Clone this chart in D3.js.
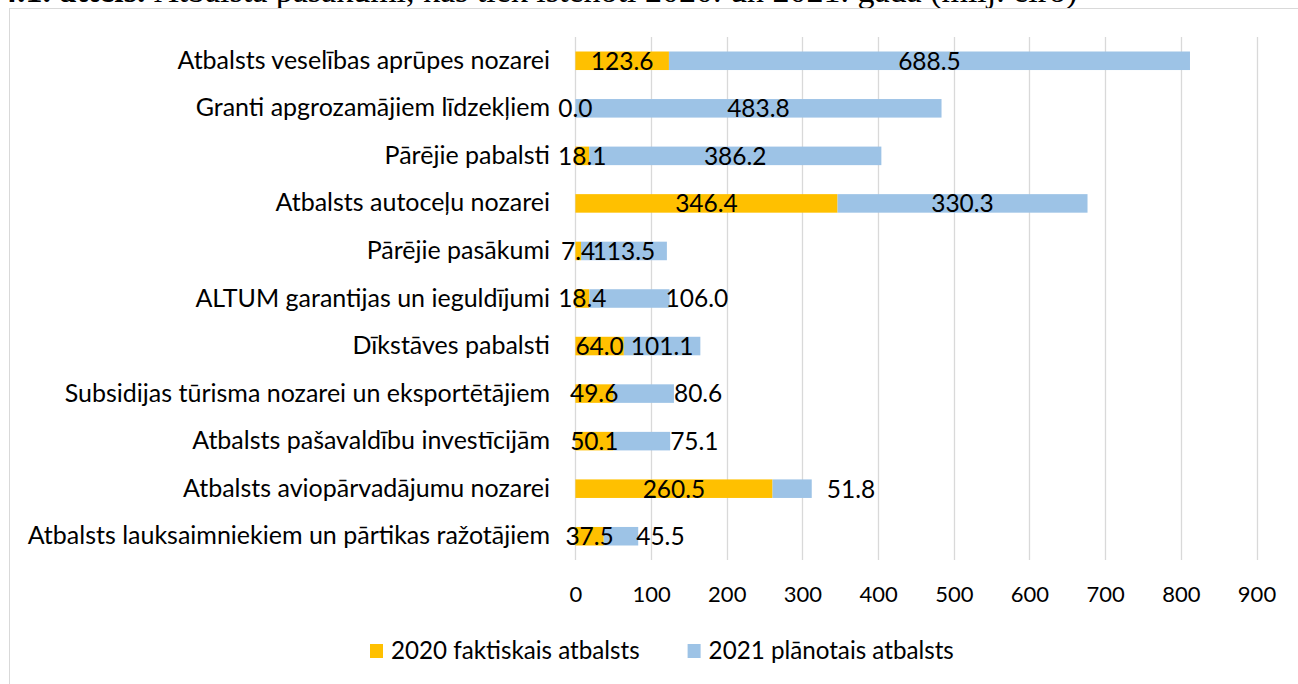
<!DOCTYPE html>
<html>
<head>
<meta charset="utf-8">
<script src="https://cdn.jsdelivr.net/npm/d3@7"></script>
<style>
	body { margin: 0; background: #fff; }
	svg { display: block; }
	text { font-family: Lato, "Open Sans", sans-serif; fill: #000; }
</style>
</head>
<body>
<script>
// chart data (milj. eiro)
var categories = [
	"Atbalsts veselības aprūpes nozarei",
	"Granti apgrozamājiem līdzekļiem",
	"Pārējie pabalsti",
	"Atbalsts autoceļu nozarei",
	"Pārējie pasākumi",
	"ALTUM garantijas un ieguldījumi",
	"Dīkstāves pabalsti",
	"Subsidijas tūrisma nozarei un eksportētājiem",
	"Atbalsts pašavaldību investīcijām",
	"Atbalsts aviopārvadājumu nozarei",
	"Atbalsts lauksaimniekiem un pārtikas ražotājiem"
];
var actual2020 = [123.6, 0.0, 18.1, 346.4, 7.4, 18.4, 64.0, 49.6, 50.1, 260.5, 37.5];
var planned2021 = [688.5, 483.8, 386.2, 330.3, 113.5, 106.0, 101.1, 80.6, 75.1, 51.8, 45.5];
var seriesNames = ["2020 faktiskais atbalsts", "2021 plānotais atbalsts"];
var xTicks = [0, 100, 200, 300, 400, 500, 600, 700, 800, 900];

// labels that were dragged out past the end of the bar (px gap from bar end)
var outsideLabelGap = {
	"ALTUM garantijas un ieguldījumi": -4,
	"Subsidijas tūrisma nozarei un eksportētājiem": 0,
	"Atbalsts pašavaldību investīcijām": 0,
	"Atbalsts aviopārvadājumu nozarei": 15,
	"Atbalsts lauksaimniekiem un pārtikas ražotājiem": -2
};

var colors = ["#FFC000", "#9DC3E6"];
var width = 1298;
var height = 684;
var labelSize = "24.5px";

var svg = d3.select("body")
			.append("svg")
			.attr("width", width)
			.attr("height", height);

// caption from the document, mostly cut off at the top
var caption = svg.append("text")
			.attr("x", 0)
			.attr("y", 1.5)
			.style("font-family", "'Liberation Serif', serif")
			.style("font-size", "34px");
caption.append("tspan")
			.style("font-weight", "bold")
			.text("4.1. attēls. ");
caption.append("tspan")
			.text("Atbalsta pasākumi, kas tiek īstenoti 2020. un 2021. gadā (milj. eiro)");

// chart area border
svg.append("rect")
			.attr("x", 9.5)
			.attr("y", 8.5)
			.attr("width", 1400)
			.attr("height", 800)
			.attr("fill", "#fff")
			.attr("stroke", "#d9d9d9")
			.attr("stroke-width", 1);

var x = d3.scaleLinear()
			.domain([0, 900])
			.range([575.4, 1256.5]);

var y = d3.scaleBand()
			.domain(categories)
			.range([37, 560])
			.paddingInner(0.61)
			.paddingOuter(0.305);

// gridlines
svg.append("g")
			.selectAll("line")
			.data(xTicks)
			.join("line")
			.attr("x1", d => Math.round(x(d)) + 0.5)
			.attr("x2", d => Math.round(x(d)) + 0.5)
			.attr("y1", 37)
			.attr("y2", 560)
			.attr("stroke", "#d9d9d9")
			.attr("stroke-width", 1.3);

// x axis tick labels
var xAxis = svg.append("g")
			.attr("transform", "translate(0,594)")
			.call(d3.axisBottom(x).tickValues(xTicks).tickSize(0).tickPadding(0));
xAxis.select(".domain").remove();
xAxis.selectAll("text")
			.attr("dy", "0.35em")
			.attr("y", 0)
			.style("font-family", "Lato, sans-serif")
			.style("font-size", "22px")
			.attr("fill", "#000");

// category labels
var yAxis = svg.append("g")
			.attr("transform", "translate(550,0)")
			.call(d3.axisLeft(y).tickSize(0).tickPadding(0));
yAxis.select(".domain").remove();
yAxis.selectAll("text")
			.style("font-family", "Lato, sans-serif")
			.style("font-size", "25px")
			.attr("fill", "#000");

// stack the two series
var rows = categories.map((c, i) => ({cat: c, a: actual2020[i], b: planned2021[i]}));
var stack = d3.stack().keys(["a", "b"]);
var layers = stack(rows);

var layer = svg.append("g")
			.selectAll("g")
			.data(layers)
			.join("g")
			.attr("fill", (d, i) => colors[i]);

layer.selectAll("rect")
			.data(d => d)
			.join("rect")
			.attr("x", d => x(d[0]))
			.attr("y", d => y(d.data.cat))
			.attr("width", d => x(d[1]) - x(d[0]))
			.attr("height", y.bandwidth());

// data labels
layers.forEach(function(l, k) {
	svg.append("g")
			.selectAll("text")
			.data(l)
			.join("text")
			.attr("x", function(d) {
				if (k == 1 && outsideLabelGap[d.data.cat] !== undefined) {
					return x(d[1]) + outsideLabelGap[d.data.cat];
				}
				return (x(d[0]) + x(d[1])) / 2;
			})
			.attr("y", d => y(d.data.cat) + y.bandwidth() / 2)
			.attr("dy", "0.36em")
			.attr("text-anchor", d => (k == 1 && outsideLabelGap[d.data.cat] !== undefined) ? "start" : "middle")
			.style("font-size", labelSize)
			.text(d => (d[1] - d[0]).toFixed(1));
});

// legend
var legend = svg.append("g")
			.attr("transform", "translate(370,651)");
var lx = 0;
seriesNames.forEach(function(name, i) {
	legend.append("rect")
			.attr("x", lx)
			.attr("y", -7)
			.attr("width", 13)
			.attr("height", 14)
			.attr("fill", colors[i]);
	var t = legend.append("text")
			.attr("x", lx + 21)
			.attr("y", 0)
			.attr("dy", "0.35em")
			.style("font-size", "24.2px")
			.text(name);
	lx += 21 + t.node().getComputedTextLength() + 48;
});
</script>
</body>
</html>
